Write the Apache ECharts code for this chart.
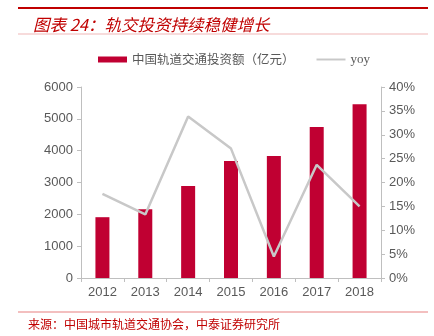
<!DOCTYPE html>
<html><head><meta charset="utf-8">
<script src="https://cdn.jsdelivr.net/npm/echarts@6/dist/echarts.min.js"></script>
<style>html,body{margin:0;padding:0;background:#fff}#c{width:434px;height:336px}</style>
</head><body><div id="c"></div>
<script>
const categories = ['2012','2013','2014','2015','2016','2017','2018'];
const investment = [1910, 2160, 2890, 3675, 3830, 4745, 5455];
const yoy = [17.6, 13.3, 33.8, 27.1, 4.5, 23.7, 15.0];
const leftTicks = [0, 6000, 1000];
const rightTicks = [0, 40, 5];
const barName = '中国轨道交通投资额（亿元）';
const lineName = 'yoy';

const chart = echarts.init(document.getElementById('c'));
chart.setOption({
  animation: false,
  title: {
    text: '图表 24：轨交投资持续稳健增长',
    left: 28, top: 11,
    textStyle: {color: '#C00000', fontSize: 16.5, fontStyle: 'italic', fontWeight: 'normal', fontFamily: 'Noto Sans CJK SC'}
  },
  graphic: [
    {type: 'rect', shape: {x: 18, y: 7, width: 410, height: 2}, style: {fill: '#C00000'}},
    {type: 'rect', shape: {x: 18, y: 33.5, width: 410, height: 1}, style: {fill: '#F0B8B8'}},
    {type: 'rect', shape: {x: 18, y: 311.5, width: 410, height: 1}, style: {fill: '#E88080'}},
    {type: 'text', left: 28, top: 318, style: {text: '来源：中国城市轨道交通协会，中泰证券研究所', fill: '#C00000', font: '12px "Noto Sans CJK SC"'}}
  ],
  legend: {
    left: 93, top: 48,
    itemWidth: 29, itemHeight: 6, itemGap: 22,
    textStyle: {color: '#595959', fontSize: 12.5, fontFamily: 'Noto Sans CJK SC'},
    data: [
      {name: barName, icon: 'rect'},
      {name: lineName, icon: 'path://M0,0 L30,0 L30,2 L0,2 Z', textStyle: {fontFamily: 'Liberation Serif', fontSize: 13}}
    ]
  },
  grid: {left: 81, right: 53, top: 87, bottom: 58},
  xAxis: {
    type: 'category', data: categories,
    axisLine: {lineStyle: {color: '#BFBFBF', width: 1}},
    axisTick: {show: true, length: 4, lineStyle: {color: '#BFBFBF'}},
    axisLabel: {color: '#595959', fontSize: 13, fontFamily: 'Liberation Sans', margin: 8}
  },
  yAxis: [
    {
      type: 'value', min: leftTicks[0], max: leftTicks[1], interval: leftTicks[2],
      axisLine: {show: true, lineStyle: {color: '#BFBFBF'}},
      axisTick: {show: true, length: 4, lineStyle: {color: '#BFBFBF'}},
      splitLine: {show: false},
      axisLabel: {color: '#595959', fontSize: 13, fontFamily: 'Liberation Sans', margin: 8, formatter: v => String(v)}
    },
    {
      type: 'value', min: rightTicks[0], max: rightTicks[1], interval: rightTicks[2],
      axisLine: {show: true, lineStyle: {color: '#BFBFBF'}},
      axisTick: {show: true, length: 4, lineStyle: {color: '#BFBFBF'}},
      splitLine: {show: false},
      axisLabel: {color: '#595959', fontSize: 13, fontFamily: 'Liberation Sans', margin: 8, formatter: v => v + '%'}
    }
  ],
  series: [
    {name: barName, type: 'bar', data: investment, barWidth: 14, itemStyle: {color: '#C00032'}},
    {name: lineName, type: 'line', yAxisIndex: 1, data: yoy, symbol: 'none', z: 5,
      lineStyle: {color: '#C8C8C8', width: 2.5}, itemStyle: {color: '#C8C8C8'}}
  ]
});
</script></body></html>
